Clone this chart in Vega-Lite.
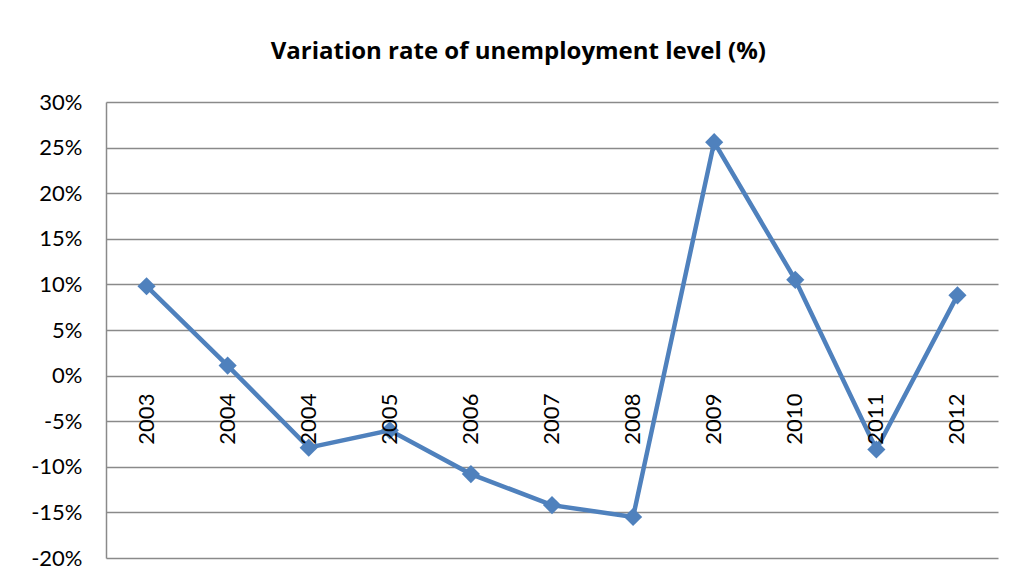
{
  "$schema": "https://vega.github.io/schema/vega-lite/v6.json",
  "autosize": {"type": "none"},
  "width": 892,
  "height": 456,
  "padding": {"left": 106, "top": 102, "right": 17, "bottom": 22},
  "background": "white",
  "title": {
    "text": "Variation rate of unemployment level (%)",
    "font": "Open Sans",
    "fontSize": 24,
    "fontWeight": "bold",
    "color": "black",
    "anchor": "middle",
    "frame": "bounds",
    "baseline": "alphabetic",
    "offset": 8,
    "dx": 4
  },
  "config": {
    "view": {"stroke": null},
    "font": "Lato"
  },
  "data": {
    "values": [
      {"key": "a", "year": "2003", "rate": 9.8},
      {"key": "b", "year": "2004", "rate": 1.1},
      {"key": "c", "year": "2004", "rate": -7.9},
      {"key": "d", "year": "2005", "rate": -6.0},
      {"key": "e", "year": "2006", "rate": -10.8},
      {"key": "f", "year": "2007", "rate": -14.2},
      {"key": "g", "year": "2008", "rate": -15.5},
      {"key": "h", "year": "2009", "rate": 25.6},
      {"key": "i", "year": "2010", "rate": 10.5},
      {"key": "j", "year": "2011", "rate": -8.1},
      {"key": "k", "year": "2012", "rate": 8.8}
    ]
  },
  "encoding": {
    "x": {"field": "key", "type": "nominal", "axis": null, "sort": null, "scale": {"type": "point", "padding": 0.5}}
  },
  "layer": [
    {
      "mark": {"type": "line", "color": "#4F81BD", "strokeWidth": 4.5},
      "encoding": {
        "y": {
          "field": "rate",
          "type": "quantitative",
          "scale": {"domain": [-20, 30], "nice": false, "zero": false},
          "axis": {
            "title": null,
            "values": [-20, -15, -10, -5, 0, 5, 10, 15, 20, 25, 30],
            "labelExpr": "datum.value + '%'",
            "labelFont": "Lato",
            "labelFontSize": 22,
            "labelColor": "black",
            "labelPadding": 24,
            "ticks": false,
            "grid": true,
            "gridColor": "#8a8a8a",
            "gridWidth": 1.5,
            "domain": true,
            "domainColor": "#8a8a8a",
            "domainWidth": 1.5
          }
        }
      }
    },
    {
      "mark": {"type": "point", "shape": "diamond", "filled": true, "color": "#4F81BD", "size": 330, "opacity": 1},
      "encoding": {
        "y": {"field": "rate", "type": "quantitative"}
      }
    },
    {
      "mark": {"type": "text", "angle": -90, "align": "right", "baseline": "middle", "dx": -18, "font": "Lato", "fontSize": 22, "color": "black"},
      "encoding": {
        "y": {"datum": 0, "type": "quantitative"},
        "text": {"field": "year"}
      }
    }
  ]
}
